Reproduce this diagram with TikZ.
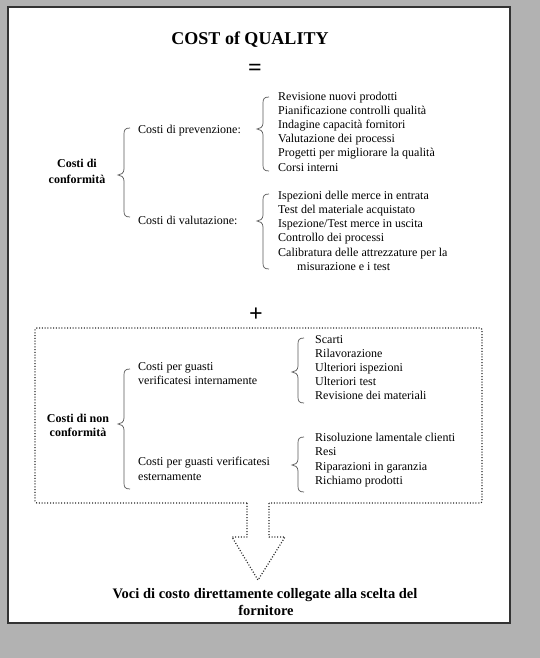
\documentclass[tikz,border=0pt]{standalone}
\usepackage{fontspec}
\setmainfont{Liberation Serif}
\tikzset{
  txt/.style={font=\fontsize{12}{14}\selectfont, inner sep=0pt, anchor=base west},
  btxt/.style={font=\bfseries\fontsize{12}{14}\selectfont, inner sep=0pt, anchor=base},
  bigtxt/.style={font=\bfseries\fontsize{14.5}{17}\selectfont, inner sep=0pt, anchor=base},
  bracestyle/.style={draw=black!65, line width=0.7pt},
  dots/.style={draw=black!85, line width=1.2pt, dash pattern=on 1pt off 1.8pt},
}
\newcommand\drawbrace[4]{%
  \draw[bracestyle] ({#1+6},{#2}) .. controls ({#1+1},{#2}) and ({#1},{#2+2}) .. ({#1},{#2+6})
    -- ({#1},{#3-6}) .. controls ({#1},{#3-2}) and ({#1-3},{#3}) .. ({#1-6},{#3})
    .. controls ({#1-3},{#3}) and ({#1},{#3+2}) .. ({#1},{#3+6})
    -- ({#1},{#4-6}) .. controls ({#1},{#4-2}) and ({#1+1},{#4}) .. ({#1+6},{#4});}
\begin{document}
\begin{tikzpicture}[x=1pt,y=-1pt]
\useasboundingbox (0,0) rectangle (540,658);
\fill[black!30] (0,0) rectangle (540,658);
\draw[fill=white, draw=black!80, line width=1.6pt] (8,7) rectangle (510,623);

% title
\node[font=\bfseries\fontsize{18}{20}\selectfont, inner sep=0pt, anchor=base] (title) at (250,45) {COST of QUALITY};
\node[font=\bfseries\fontsize{24}{24}\selectfont, inner sep=0pt] (eq) at (255,70) {=};

% conformity
\node[btxt] (conf1) at (77,167) {Costi di};
\node[btxt] (conf2) at (77,183) {conformità};
\drawbrace{124}{128}{175}{217}
\node[txt] (prev) at (138,134) {Costi di prevenzione:};
\node[txt] (valu) at (138,224) {Costi di valutazione:};
\drawbrace{263}{97}{129}{171}
\drawbrace{263}{194}{221}{269}
\foreach \t [count=\i] in {Revisione nuovi prodotti, Pianificazione controlli qualità, Indagine capacità fornitori, Valutazione dei processi, Progetti per migliorare la qualità, Corsi interni}
  \node[txt] (pv\i) at (278,{100.5+14.1*(\i-1)}) {\t};
\foreach \t [count=\i] in {Ispezioni delle merce in entrata, Test del materiale acquistato, Ispezione/Test merce in uscita, Controllo dei processi, Calibratura delle attrezzature per la}
  \node[txt] (va\i) at (278,{199+14.3*(\i-1)}) {\t};
\node[txt] (va6) at (297,270.5) {misurazione e i test};

\node[font=\bfseries\fontsize{24}{24}\selectfont, inner sep=0pt] (plus) at (256,315) {+};

% non conformity box and arrow
\draw[dots, rounded corners=2pt] (247,503) -- (35,503) -- (35,328) -- (482,328) -- (482,503) -- (269,503);
\draw[dots, line join=round] (247,503) -- (247,537) -- (232,537) -- (258,580) -- (285,537) -- (269,537) -- (269,503);

\node[btxt] (nc1) at (78,422) {Costi di non};
\node[btxt] (nc2) at (78,436) {conformità};
\drawbrace{124}{369}{424}{489}
\node[txt] (int1) at (138,370) {Costi per guasti};
\node[txt] (int2) at (138,384) {verificatesi internamente};
\node[txt] (ext1) at (138,465) {Costi per guasti verificatesi};
\node[txt] (ext2) at (138,480) {esternamente};
\drawbrace{298}{338}{372}{403}
\drawbrace{298}{437}{465}{492}
\foreach \t [count=\i] in {Scarti, Rilavorazione, Ulteriori ispezioni, Ulteriori test, Revisione dei materiali}
  \node[txt] (in\i) at (315,{343+14*(\i-1)}) {\t};
\foreach \t [count=\i] in {Risoluzione lamentale clienti, Resi, Riparazioni in garanzia, Richiamo prodotti}
  \node[txt] (ex\i) at (315,{441+14.5*(\i-1)}) {\t};

% bottom text
\node[bigtxt] (voci1) at (265,598) {Voci di costo direttamente collegate alla scelta del};
\node[bigtxt] (voci2) at (266,615) {fornitore};
\end{tikzpicture}
\end{document}
